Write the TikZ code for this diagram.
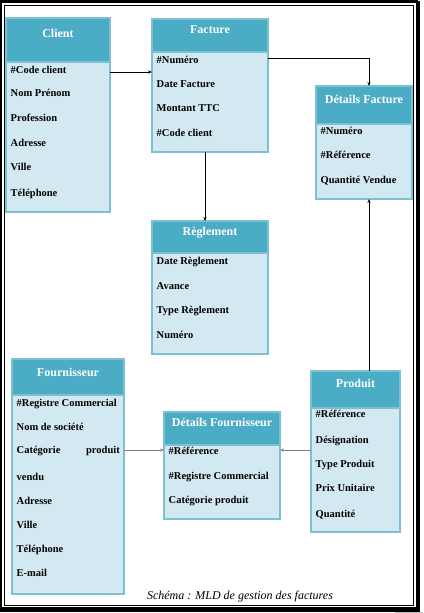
\documentclass[tikz,border=0pt]{standalone}
\usepackage{fontspec}
\setmainfont{Liberation Serif}
\usetikzlibrary{arrows.meta}
\definecolor{hdrc}{HTML}{4BACC6}
\definecolor{bodyc}{HTML}{D3E9F1}
\definecolor{edgec}{HTML}{7EC0D3}
\definecolor{greyline}{HTML}{808080}
\newcommand\entbox[8]{%
  \node[body, minimum width={#4pt-#2pt}, minimum height={#5pt-#3pt}] (#1) at (#2,#3) {};
  \node[hdr, minimum width={#4pt-#2pt}, minimum height={#6pt-#3pt}] (#1-h) at (#2,#3) {};
  \node[ttl] (#1-t) at ({(#2+#4)/2}, #7+4.2) {#8};
}
\newcommand\attr[4]{\node[att] (#1) at (#2+4.5, #3+3.6) {#4};}
\begin{document}
\begin{tikzpicture}[x=1pt,y=-1pt,
  body/.style={draw=edgec, fill=bodyc, line width=1.6pt, anchor=north west, inner sep=0pt, outer sep=0pt},
  hdr/.style={draw=edgec, fill=hdrc, line width=1.6pt, anchor=north west, inner sep=0pt, outer sep=0pt},
  ttl/.style={anchor=base, text=white, font=\fontsize{12}{14}\selectfont\bfseries, inner sep=0pt},
  att/.style={anchor=base west, font=\fontsize{10.5}{12}\selectfont\bfseries, inner sep=0pt},
  arr/.style={-{Stealth[length=4pt,width=3.2pt]}, line width=0.7pt},
  garr/.style={-{Stealth[length=4pt,width=3.2pt]}, line width=0.9pt, draw=greyline},
  captxt/.style={anchor=base, font=\fontsize{12}{14}\selectfont\itshape, inner sep=0pt}]
\useasboundingbox (0,0) rectangle (423,613);
% frame
\draw[line width=2.4pt] (1.2,1.5) rectangle (417,608.5);
\draw[line width=2pt] (418.5,1) -- (418.5,610.5) -- (0,610.5);
\draw[line width=0.9pt] (4,5) rectangle (413.8,605);
\draw[gray!55, line width=0.6pt] (395.5,613) -- (395.5,612) -- (423,612);

% Client
\entbox{client}{6}{18}{110}{212}{62}{33}{Client}
\attr{c1}{6}{70}{\#Code client}
\attr{c2}{6}{93}{Nom Prénom}
\attr{c3}{6}{118}{Profession}
\attr{c4}{6}{143}{Adresse}
\attr{c5}{6}{167}{Ville}
\attr{c6}{6}{193}{Téléphone}

% Facture
\entbox{facture}{152}{19}{268}{152}{52}{29}{Facture}
\attr{f1}{152}{60}{\#Numéro}
\attr{f2}{152}{84}{Date Facture}
\attr{f3}{152}{108}{Montant TTC}
\attr{f4}{152}{133}{\#Code client}

% Reglement
\entbox{regl}{152}{221}{268}{354}{253}{231}{Règlement}
\attr{r1}{152}{261}{Date Règlement}
\attr{r2}{152}{286}{Avance}
\attr{r3}{152}{310}{Type Règlement}
\attr{r4}{152}{335}{Numéro}

% Details Facture
\entbox{detfac}{316}{86}{412}{199}{124}{99}{Détails Facture}
\attr{d1}{316}{131}{\#Numéro}
\attr{d2}{316}{155}{\#Référence}
\attr{d3}{316}{180}{Quantité Vendue}

% Produit
\entbox{produit}{311}{371}{400}{532}{408}{383}{Produit}
\attr{p1}{311}{414}{\#Référence}
\attr{p2}{311}{440}{Désignation}
\attr{p3}{311}{464}{Type Produit}
\attr{p4}{311}{488}{Prix Unitaire}
\attr{p5}{311}{514}{Quantité}

% Details Fournisseur
\entbox{detfour}{164}{412}{280}{519}{445}{422}{Détails Fournisseur}
\attr{g1}{164}{451}{\#Référence}
\attr{g2}{164}{476}{\#Registre Commercial}
\attr{g3}{164}{500}{Catégorie produit}

% Fournisseur
\entbox{fourn}{12}{359}{124}{594}{395}{372}{Fournisseur}
\attr{h1}{12}{403}{\#Registre Commercial}
\attr{h2}{12}{427}{Nom de société}
\attr{h3}{12}{450}{Catégorie}
\node[att, anchor=base east] (h3b) at (120, 453.6) {produit};
\attr{h4}{12}{477}{vendu}
\attr{h5}{12}{501}{Adresse}
\attr{h6}{12}{525}{Ville}
\attr{h7}{12}{549}{Téléphone}
\attr{h8}{12}{573}{E-mail}

% caption
\node[captxt] (caption) at (240, 599) {Schéma : MLD de gestion des factures};

% connectors
\coordinate (ka) at ([yshift=-2pt]c1.west);
\draw[arr] (client.east |- ka) -- (facture.west |- ka);
\coordinate (kb) at ([yshift=2pt]f1.west);
\coordinate (kc) at ([xshift=5pt]detfac.north);
\draw[arr] (facture.east |- kb) -| (kc);
\coordinate (kd) at ([xshift=-5pt]facture.south);
\draw[arr] (kd) -- (regl.north -| kd);
\coordinate (ke) at ([xshift=5pt]detfac.south);
\draw[arr] (produit.north -| ke) -- (ke);
\coordinate (kf) at ([yshift=1pt]g1.west);
\draw[garr] (produit.west |- kf) -- (detfour.east |- kf);
\draw[garr] (fourn.east |- kf) -- (detfour.west |- kf);
\end{tikzpicture}
\end{document}
